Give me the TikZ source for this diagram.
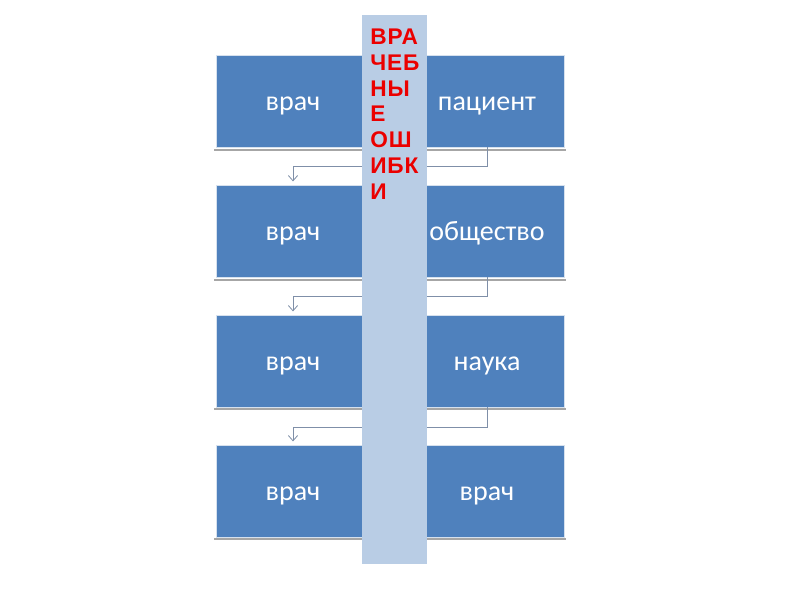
\documentclass[tikz,border=0pt]{standalone}
\usepackage{fontspec}
\setmainfont{Carlito}
\newfontfamily\bandfont[LetterSpace=4]{Liberation Sans}
\usetikzlibrary{arrows.meta}

\begin{document}
\begin{tikzpicture}[x=0.75pt,y=0.75pt,yscale=-1,xscale=1,
  box/.style={fill={rgb, 255:red, 79; green, 129; blue, 189 }, draw={rgb, 255:red, 214; green, 225; blue, 238 }, line width=0.4pt,
    minimum width=115.5pt, minimum height=69pt, inner sep=0pt, text height=13.5pt, text depth=0pt,
    text=white, font=\fontsize{21}{25}\selectfont},
  link/.style={color={rgb, 255:red, 127; green, 143; blue, 168 }, line width=0.6pt, -{Straight Barb[length=4pt,width=7pt]}, shorten >=2.5pt},
  underline/.style={color={rgb, 255:red, 166; green, 166; blue, 166 }, line width=0.8pt}]
\useasboundingbox (0,0) rectangle (800,600);

%Straight Lines under the rows
\draw [underline] (214,150) -- (566,150) ;
\draw [underline] (214,280) -- (566,280) ;
\draw [underline] (214,409) -- (566,409) ;
\draw [underline] (214,539) -- (566,539) ;

% Row 1
\node [box] (L1) at (293,101) {врач};
\node [box] (R1) at (487,101) {пациент};
% Row 2
\node [box] (L2) at (293,231) {врач};
\node [box] (R2) at (487,231) {общество};
% Row 3
\node [box] (L3) at (293,361) {врач};
\node [box] (R3) at (487,361) {наука};
% Row 4
\node [box] (L4) at (293,491) {врач};
\node [box] (R4) at (487,491) {врач};

%Connectors
\draw [link] (R1.south) -- ++(0,19) -| (L2.north) ;
\draw [link] (R2.south) -- ++(0,19) -| (L3.north) ;
\draw [link] (R3.south) -- ++(0,20) -| (L4.north) ;

%Shape: Rectangle (band)
\draw [draw=none, fill={rgb, 255:red, 185; green, 205; blue, 229 }] (362,15) rectangle (427,564) ;

% Text Node
\node [anchor=north west, inner sep=0pt, align=left, text={rgb, 255:red, 235; green, 0; blue, 0 },
  font=\bandfont\bfseries\fontsize{17}{19.4}\selectfont] (title) at (370,28.5)
  {ВРА\\ЧЕБ\\НЫ\\Е\\ОШ\\ИБК\\И};

\end{tikzpicture}
\end{document}
